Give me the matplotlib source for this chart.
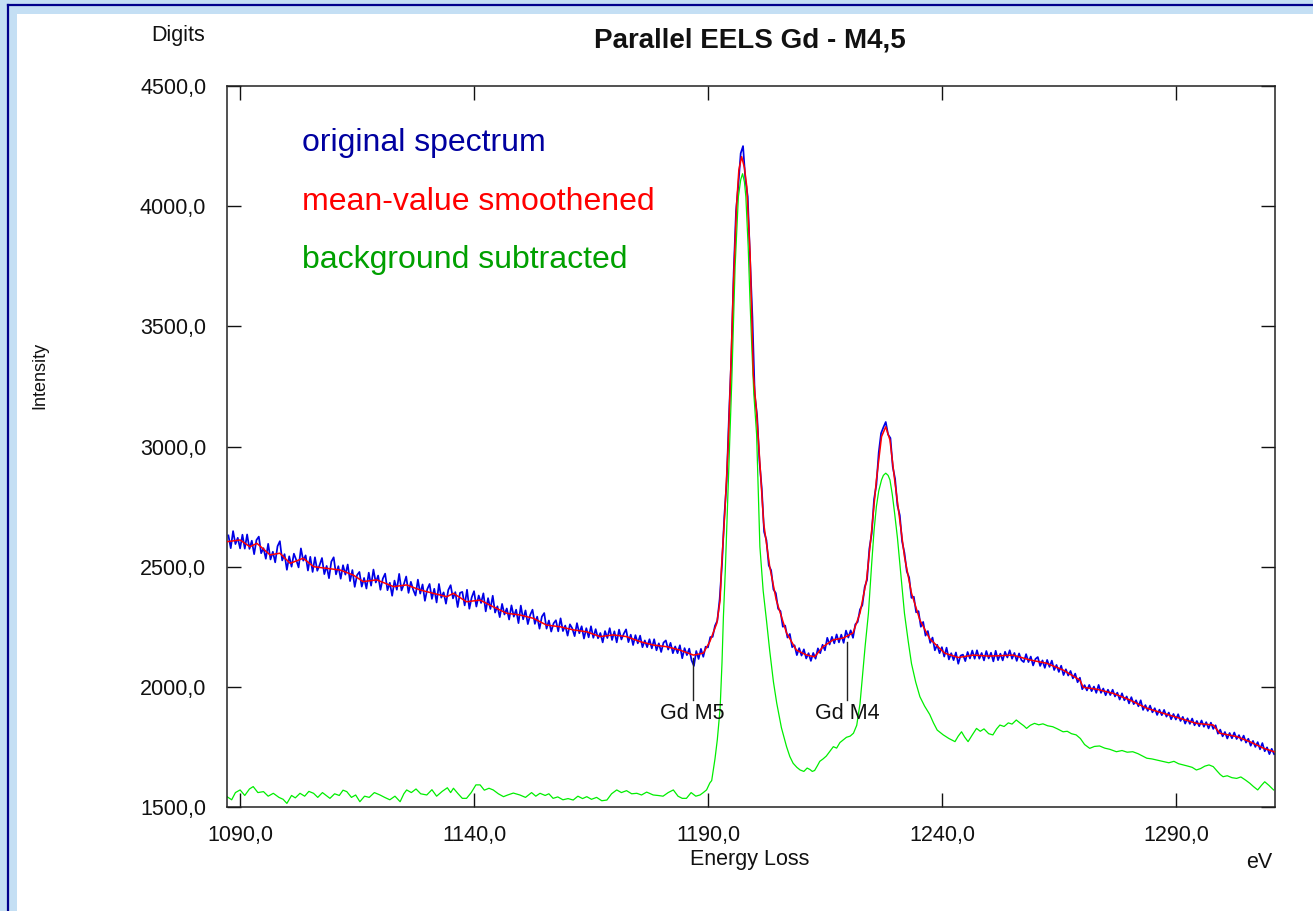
import numpy as np
import matplotlib
matplotlib.use("Agg")
import matplotlib.pyplot as plt
from matplotlib.patches import Rectangle
from matplotlib.lines import Line2D

plt.rcParams['font.family'] = ['Liberation Sans', 'DejaVu Sans']

# ---- data ----
# original spectrum, one channel every 0.5 eV starting at 1087.5 eV
orig_start = 1087.5
orig_step = 0.5
orig_counts = [
    2630, 2577, 2648, 2594, 2620, 2576, 2633, 2575, 2634, 2574, 2608, 2552, 2611, 2625, 2556, 2577, 2533, 2595, 2530, 2562,
    2518, 2585, 2606, 2526, 2552, 2487, 2543, 2500, 2554, 2528, 2497, 2576, 2525, 2547, 2484, 2541, 2478, 2539, 2483, 2507,
    2536, 2469, 2503, 2452, 2521, 2539, 2468, 2502, 2450, 2506, 2467, 2509, 2440, 2486, 2416, 2465, 2478, 2417, 2453, 2409,
    2475, 2421, 2488, 2434, 2463, 2404, 2450, 2471, 2402, 2433, 2379, 2442, 2404, 2470, 2401, 2427, 2459, 2391, 2437, 2404,
    2380, 2446, 2388, 2426, 2358, 2406, 2428, 2366, 2408, 2351, 2428, 2371, 2393, 2346, 2403, 2423, 2368, 2394, 2332, 2391,
    2395, 2339, 2404, 2325, 2372, 2398, 2334, 2380, 2349, 2389, 2314, 2369, 2324, 2379, 2309, 2335, 2290, 2345, 2301, 2326,
    2280, 2339, 2292, 2321, 2265, 2338, 2281, 2318, 2261, 2299, 2321, 2262, 2292, 2242, 2292, 2307, 2242, 2276, 2230, 2264,
    2277, 2231, 2285, 2232, 2255, 2213, 2260, 2243, 2211, 2265, 2223, 2252, 2201, 2244, 2206, 2252, 2204, 2240, 2202, 2224,
    2185, 2232, 2203, 2244, 2195, 2231, 2185, 2238, 2197, 2221, 2239, 2186, 2217, 2174, 2215, 2181, 2213, 2165, 2193, 2165,
    2198, 2160, 2198, 2152, 2181, 2145, 2184, 2193, 2155, 2183, 2140, 2168, 2140, 2173, 2119, 2161, 2132, 2159, 2110, 2087,
    2149, 2116, 2158, 2125, 2167, 2164, 2207, 2208, 2254, 2275, 2365, 2510, 2710, 2855, 3130, 3370, 3725, 3980, 4090, 4220,
    4250, 4110, 4040, 3780, 3540, 3215, 3130, 2940, 2825, 2645, 2610, 2505, 2485, 2405, 2390, 2325, 2315, 2250, 2255, 2205,
    2220, 2165, 2173, 2132, 2161, 2130, 2156, 2118, 2140, 2108, 2141, 2117, 2160, 2140, 2175, 2152, 2204, 2176, 2208, 2181,
    2218, 2185, 2217, 2183, 2234, 2205, 2235, 2204, 2260, 2270, 2322, 2340, 2415, 2445, 2575, 2638, 2780, 2841, 2975, 3055,
    3080, 3102, 3050, 3035, 2915, 2865, 2755, 2714, 2605, 2557, 2480, 2455, 2370, 2375, 2310, 2315, 2250, 2270, 2213, 2232,
    2183, 2205, 2152, 2175, 2140, 2165, 2126, 2163, 2114, 2140, 2111, 2143, 2096, 2130, 2134, 2107, 2145, 2118, 2151, 2117,
    2152, 2117, 2141, 2110, 2149, 2118, 2142, 2106, 2150, 2111, 2138, 2110, 2146, 2122, 2152, 2117, 2141, 2108, 2139, 2111,
    2103, 2136, 2103, 2126, 2089, 2116, 2124, 2087, 2110, 2079, 2112, 2083, 2109, 2070, 2091, 2062, 2088, 2049, 2073, 2047,
    2066, 2035, 2055, 2019, 2038, 1990, 2007, 1985, 2008, 1982, 2001, 1975, 2008, 1975, 1993, 1965, 1988, 1966, 1988, 1960,
    1976, 1947, 1973, 1944, 1960, 1931, 1957, 1928, 1944, 1919, 1944, 1904, 1924, 1900, 1922, 1894, 1911, 1883, 1905, 1882,
    1904, 1876, 1893, 1865, 1887, 1864, 1886, 1858, 1875, 1847, 1869, 1846, 1868, 1840, 1858, 1836, 1860, 1834, 1853, 1827,
    1851, 1825, 1840, 1805, 1822, 1794, 1812, 1785, 1808, 1786, 1810, 1783, 1799, 1776, 1797, 1768, 1784, 1755, 1775, 1750,
    1770, 1740, 1766, 1732, 1748, 1720, 1742, 1720,
]

# mean-value smoothened spectrum
smooth_ev = [
    1087.2, 1090.0, 1092.1, 1093.6, 1096.4, 1098.5, 1100.7, 1103.5, 1105.7, 1108.5,
    1111.4, 1114.2, 1116.3, 1119.2, 1122.8, 1125.6, 1128.5, 1131.3, 1134.2, 1135.6,
    1138.4, 1141.3, 1144.1, 1147.0, 1149.8, 1152.7, 1155.5, 1158.4, 1161.2, 1164.1,
    1166.9, 1169.8, 1172.6, 1175.5, 1178.3, 1181.2, 1184.0, 1186.9, 1189.0, 1190.4,
    1191.9, 1192.6, 1192.9, 1193.6, 1194.3, 1194.8, 1195.4, 1196.1, 1196.6, 1197.2,
    1197.8, 1198.3, 1199.0, 1199.7, 1200.4, 1201.1, 1201.9, 1203.2, 1204.6, 1206.8,
    1208.9, 1211.1, 1212.8, 1214.6, 1216.7, 1218.9, 1221.0, 1222.5, 1223.9, 1225.0,
    1226.0, 1227.1, 1228.0, 1228.9, 1229.9, 1231.0, 1232.0, 1233.5, 1235.3, 1237.4,
    1240.6, 1243.5, 1246.7, 1250.0, 1253.0, 1255.2, 1258.8, 1262.4, 1265.9, 1269.5,
    1270.2, 1273.1, 1276.6, 1280.2, 1283.8, 1287.3, 1290.9, 1294.4, 1298.0, 1299.4,
    1303.0, 1305.8, 1308.8, 1311.0,
]
smooth_counts = [
    2604, 2611, 2583, 2597, 2549, 2556, 2514, 2535, 2500, 2493,
    2486, 2465, 2438, 2445, 2417, 2424, 2403, 2389, 2375, 2389,
    2354, 2361, 2333, 2306, 2299, 2285, 2257, 2250, 2237, 2229,
    2209, 2216, 2209, 2188, 2174, 2167, 2153, 2132, 2140, 2188,
    2265, 2361, 2500, 2723, 2999, 3277, 3651, 4000, 4150, 4206,
    4160, 4081, 3805, 3300, 3139, 2931, 2682, 2500, 2361, 2224,
    2153, 2132, 2125, 2167, 2195, 2203, 2224, 2307, 2445, 2653,
    2861, 3041, 3082, 3027, 2861, 2694, 2542, 2390, 2278, 2200,
    2140, 2122, 2132, 2128, 2130, 2132, 2112, 2098, 2070, 2028,
    1998, 1990, 1973, 1945, 1911, 1890, 1869, 1848, 1841, 1807,
    1793, 1772, 1744, 1730,
]

# background subtracted spectrum
bgsub_ev = [
    1087.2, 1088.2, 1089.0, 1090.0, 1091.0, 1092.0, 1092.8, 1093.8, 1095.0, 1096.0,
    1097.1, 1098.3, 1099.2, 1100.0, 1101.0, 1101.8, 1102.8, 1103.8, 1104.7, 1105.7,
    1106.6, 1107.6, 1108.4, 1109.2, 1110.2, 1111.2, 1112.0, 1112.8, 1113.8, 1114.7,
    1115.6, 1116.6, 1117.6, 1118.7, 1119.9, 1120.9, 1122.0, 1123.1, 1124.2, 1125.0,
    1125.6, 1126.6, 1127.6, 1128.6, 1129.9, 1131.0, 1132.0, 1133.2, 1134.3, 1135.0,
    1135.6, 1136.6, 1137.5, 1138.4, 1139.4, 1140.4, 1141.3, 1142.2, 1143.2, 1144.1,
    1145.2, 1146.3, 1147.2, 1148.4, 1149.8, 1151.0, 1152.3, 1153.2, 1154.1, 1155.2,
    1156.0, 1156.9, 1157.9, 1159.0, 1160.1, 1161.2, 1162.2, 1163.2, 1164.1, 1165.1,
    1166.2, 1167.3, 1168.4, 1169.4, 1170.5, 1171.5, 1172.6, 1173.7, 1174.8, 1175.8,
    1176.9, 1178.3, 1179.3, 1180.4, 1181.5, 1182.6, 1183.6, 1184.5, 1185.4, 1186.4,
    1187.4, 1188.3, 1189.0, 1189.7, 1190.4, 1190.8, 1191.5, 1192.0, 1192.6, 1193.0,
    1193.3, 1193.7, 1194.0, 1194.6, 1195.1, 1195.8, 1196.5, 1197.0, 1197.4, 1197.8,
    1198.1, 1198.6, 1199.0, 1199.4, 1199.8, 1200.4, 1200.8, 1201.1, 1201.8, 1202.5,
    1203.2, 1204.0, 1204.7, 1205.7, 1206.8, 1207.5, 1208.2, 1209.0, 1209.7, 1210.5,
    1211.2, 1211.8, 1212.3, 1212.8, 1213.4, 1213.9, 1214.6, 1215.3, 1216.0, 1216.8,
    1217.5, 1218.2, 1218.9, 1219.6, 1220.4, 1221.1, 1221.8, 1222.5, 1223.1, 1223.6,
    1224.3, 1225.0, 1225.5, 1226.0, 1226.5, 1227.1, 1227.5, 1228.0, 1228.5, 1228.9,
    1229.4, 1229.9, 1230.5, 1231.0, 1231.5, 1232.0, 1232.8, 1233.5, 1234.4, 1235.3,
    1236.3, 1237.4, 1238.2, 1239.0, 1240.3, 1241.5, 1242.8, 1243.5, 1244.2, 1244.9,
    1245.6, 1246.5, 1247.4, 1248.2, 1249.0, 1250.0, 1250.9, 1251.7, 1252.4, 1253.3,
    1254.2, 1255.0, 1255.9, 1256.8, 1257.5, 1258.1, 1258.9, 1259.8, 1260.7, 1261.6,
    1262.6, 1263.7, 1264.7, 1265.9, 1266.8, 1267.7, 1268.7, 1269.6, 1270.5, 1271.6,
    1272.6, 1273.7, 1274.8, 1275.9, 1277.3, 1278.5, 1279.6, 1280.8, 1281.9, 1282.9,
    1283.8, 1284.9, 1286.0, 1287.3, 1288.5, 1289.6, 1290.6, 1291.6, 1292.6, 1293.5,
    1294.4, 1295.3, 1296.2, 1297.1, 1298.0, 1298.8, 1299.5, 1300.1, 1301.0, 1302.0,
    1303.0, 1303.9, 1304.9, 1305.8, 1306.6, 1307.5, 1308.3, 1309.0, 1309.9, 1310.9,
]
bgsub_counts = [
    1543, 1530, 1560, 1571, 1548, 1575, 1585, 1560, 1564, 1545,
    1557, 1540, 1532, 1515, 1548, 1538, 1557, 1545, 1565, 1557,
    1540, 1560, 1548, 1536, 1555, 1548, 1570, 1564, 1540, 1550,
    1522, 1545, 1540, 1560, 1550, 1540, 1530, 1545, 1522, 1555,
    1571, 1560, 1575, 1555, 1550, 1572, 1545, 1565, 1580, 1560,
    1578, 1555, 1536, 1536, 1560, 1592, 1592, 1570, 1578, 1571,
    1555, 1543, 1550, 1558, 1550, 1540, 1560, 1545, 1557, 1548,
    1555, 1536, 1542, 1530, 1535, 1529, 1545, 1535, 1543, 1532,
    1540, 1526, 1529, 1555, 1571, 1560, 1568, 1555, 1557, 1550,
    1562, 1550, 1548, 1545, 1560, 1571, 1545, 1536, 1536, 1560,
    1545, 1550, 1560, 1571, 1600, 1610, 1700, 1780, 1910, 2100,
    2290, 2480, 2653, 2999, 3277, 3748, 4039, 4110, 4135, 4100,
    4039, 3831, 3600, 3400, 3220, 3050, 2776, 2583, 2400, 2278,
    2150, 2020, 1932, 1830, 1751, 1710, 1682, 1665, 1654, 1648,
    1662, 1656, 1648, 1652, 1672, 1690, 1700, 1712, 1730, 1751,
    1745, 1768, 1779, 1790, 1795, 1807, 1840, 1930, 2060, 2170,
    2306, 2514, 2650, 2750, 2815, 2861, 2880, 2889, 2880, 2861,
    2800, 2722, 2620, 2514, 2410, 2306, 2190, 2097, 2020, 1959,
    1920, 1885, 1850, 1820, 1800, 1785, 1772, 1795, 1813, 1790,
    1772, 1800, 1827, 1815, 1825, 1805, 1800, 1825, 1841, 1835,
    1850, 1845, 1862, 1848, 1838, 1827, 1840, 1848, 1842, 1846,
    1838, 1834, 1825, 1813, 1815, 1805, 1800, 1785, 1760, 1744,
    1752, 1754, 1745, 1740, 1730, 1735, 1728, 1730, 1722, 1712,
    1703, 1700, 1695, 1689, 1684, 1690, 1680, 1675, 1670, 1665,
    1654, 1660, 1670, 1675, 1668, 1650, 1635, 1626, 1630, 1622,
    1619, 1625, 1612, 1599, 1585, 1571, 1590, 1605, 1590, 1571,
]

x_ticks = [1090, 1140, 1190, 1240, 1290]
x_tick_labels = ["1090,0", "1140,0", "1190,0", "1240,0", "1290,0"]
y_ticks = [1500, 2000, 2500, 3000, 3500, 4000, 4500]
y_tick_labels = ["1500,0", "2000,0", "2500,0", "3000,0", "3500,0", "4000,0", "4500,0"]

edge_names = ["Gd M5", "Gd M4"]
edge_ev = [1186.7, 1219.8]
edge_line_top = [2120, 2188]

legend_texts = ["original spectrum", "mean-value smoothened", "background subtracted"]
legend_colors = ["#0000a0", "#ff0000", "#00a000"]
legend_y = [0.921, 0.839, 0.759]

# ---- figure ----
W, H = 1313, 911
fig = plt.figure(figsize=(W / 100, H / 100), dpi=100)
fig.patch.set_facecolor("#c4dff4")
fig.add_artist(Rectangle((17 / W, 0), 1, 1 - 14 / H, transform=fig.transFigure,
                         facecolor="white", edgecolor="none", zorder=0))
fig.add_artist(Line2D([8 / W, 8 / W], [0, 1 - 5 / H], transform=fig.transFigure,
                      color="#00008c", lw=1.6))
fig.add_artist(Line2D([8 / W, 1], [1 - 5 / H, 1 - 5 / H], transform=fig.transFigure,
                      color="#00008c", lw=1.6))

ax = fig.add_axes([227 / W, 1 - 807 / H, (1275 - 227) / W, (807 - 86) / H])
ax.set_facecolor("white")

orig_ev = orig_start + orig_step * np.arange(len(orig_counts))
ax.plot(orig_ev, orig_counts, color="#0000e6", lw=1.25, zorder=2)
ax.plot(smooth_ev, smooth_counts, color="#ff0000", lw=1.1, zorder=3)
ax.plot(bgsub_ev, bgsub_counts, color="#00ee00", lw=0.9, zorder=2)

ax.set_xlim(1087.2, 1311.2)
ax.set_ylim(1500, 4500)
ax.set_xticks(x_ticks)
ax.set_xticklabels(x_tick_labels)
ax.set_yticks(y_ticks)
ax.set_yticklabels(y_tick_labels)
ax.tick_params(direction="in", length=10, width=1.0, top=True, right=True,
               labelsize=15.5, colors="#111111")
ax.tick_params(axis="y", pad=15)
ax.tick_params(axis="x", pad=13)
for s in ax.spines.values():
    s.set_linewidth(1.1)
    s.set_color("#222222")

# edge markers
for name, e, top in zip(edge_names, edge_ev, edge_line_top):
    ax.plot([e, e], [top, 1945], color="#222222", lw=1.0, zorder=4)
    ax.text(e, 1887, name, ha="center", va="center", fontsize=15.5, color="#111111")

# coloured labels
for t, c, yy in zip(legend_texts, legend_colors, legend_y):
    ax.text(0.0716, yy, t, transform=ax.transAxes,
            ha="left", va="center", fontsize=23, color=c)

# titles and axis captions
fig.text(750 / W, 1 - 40 / H, "Parallel EELS Gd - M4,5", ha="center", va="center",
         fontsize=20, fontweight="bold", color="#111111")
fig.text(205 / W, 1 - 35 / H, "Digits", ha="right", va="center", fontsize=15.5, color="#111111")
fig.text(40 / W, 1 - 375 / H, "Intensity", ha="center", va="center", rotation=90,
         fontsize=13, color="#111111")
fig.text(750 / W, 1 - 860 / H, "Energy Loss", ha="center", va="center", fontsize=15.5, color="#111111")
fig.text(1272 / W, 1 - 862 / H, "eV", ha="right", va="center", fontsize=15.5, color="#111111")

fig.savefig("out.png", dpi=100, facecolor=fig.get_facecolor())
